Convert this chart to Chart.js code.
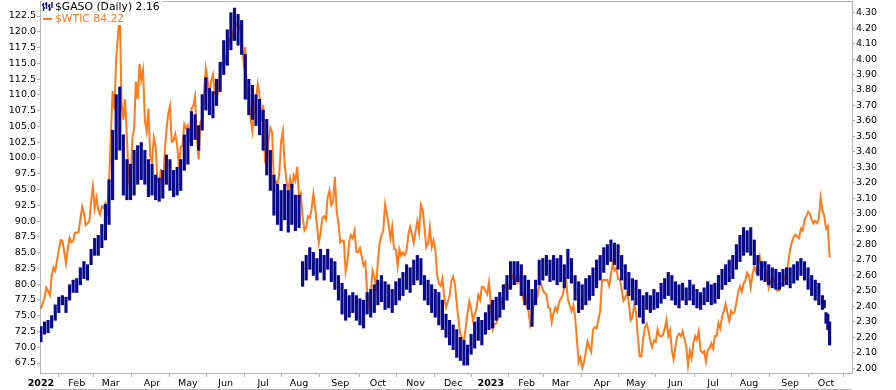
<!DOCTYPE html>
<html>
<head>
<meta charset="utf-8">
<script src="https://cdn.jsdelivr.net/npm/chart.js@4.4.1/dist/chart.umd.min.js"></script>
<style>
html,body{margin:0;padding:0;background:#fff;}
#wrap{position:relative;width:896px;height:390px;}
#legend{position:absolute;left:42px;top:1px;font:10.8px "DejaVu Sans",sans-serif;line-height:12px;background:#fff;padding-right:2px;}
#legend .sw{display:inline-block;width:9px;height:2px;background:#ff7b1c;vertical-align:middle;margin:0 3px 0 1px;}
</style>
</head>
<body>
<div id="wrap">
<canvas id="chart" width="896" height="390"></canvas>
<div id="legend">
  <div><svg width="11" height="9" style="vertical-align:-1px;margin-right:2px"><path d="M1.5 1v8M4.5 0v7M7.5 2v7M10 0v6M0 3h1.5M1.5 6h1.5M3 2h1.5M6 4h1.5M7.5 7h1.5" stroke="#0a0a8c" stroke-width="1.4" fill="none"/></svg><span>$GASO (Daily) 2.16</span></div>
  <div style="color:#ff7b1c"><span class="sw"></span>$WTIC 84.22</div>
</div>
</div>
<script>
// month ticks (trading-day index of first session in each month)
const monthStarts = [0,20,39,62,82,103,124,144,167,188,209,230,251,271,290,313,332,354,375,395,418,438];
const monthLabels = ["2022","Feb","Mar","Apr","May","Jun","Jul","Aug","Sep","Oct","Nov","Dec","2023","Feb","Mar","Apr","May","Jun","Jul","Aug","Sep","Oct"];

const wticTicks = [67.5,70,72.5,75,77.5,80,82.5,85,87.5,90,92.5,95,97.5,100,102.5,105,107.5,110,112.5,115,117.5,120,122.5];
const gasoTicks = [2.0,2.1,2.2,2.3,2.4,2.5,2.6,2.7,2.8,2.9,3.0,3.1,3.2,3.3,3.4,3.5,3.6,3.7,3.8,3.9,4.0,4.1,4.2,4.3];

// $WTIC daily close, Jan 3 2022 .. Oct 4 2023
const wticClose = [
  76.08,76.99,77.85,79.46,78.90,78.23,81.22,82.64,82.12,83.82,85.43,86.96,86.90,85.14,83.31,85.60,87.35,86.61,86.82,88.15,
  88.20,88.26,90.27,92.31,91.32,89.36,89.66,89.88,93.10,95.46,92.07,93.66,91.76,91.07,92.35,92.10,92.81,91.59,95.72,
  103.41,110.60,107.67,115.68,119.40,123.00,108.70,106.02,109.33,103.01,96.44,95.04,102.98,104.70,112.12,109.27,114.93,112.34,113.90,105.96,104.24,107.82,100.28,
  99.27,103.28,102.00,96.23,96.03,98.26,94.29,100.60,104.25,106.95,108.21,102.56,102.75,103.79,102.07,98.54,101.70,102.02,105.36,104.69,
  105.17,102.41,107.81,108.26,109.77,103.09,99.76,105.71,106.13,110.49,114.20,112.40,109.59,112.21,113.23,110.29,109.77,110.33,114.09,115.07,114.67,
  115.26,116.87,118.87,118.50,119.41,121.50,121.20,120.67,120.93,118.93,115.31,117.59,109.56,109.52,106.19,104.27,107.62,109.57,111.76,109.78,105.76,
  108.43,99.50,98.53,102.73,104.79,104.09,95.84,96.30,95.78,97.59,102.60,104.22,98.88,96.35,94.70,96.70,94.98,97.26,96.42,98.62,
  93.89,94.42,90.66,88.54,89.01,90.76,90.50,91.93,94.34,92.09,89.41,86.53,88.11,90.50,90.77,90.23,93.74,94.89,92.52,93.06,97.01,91.64,89.55,
  86.61,86.87,86.88,81.94,83.54,86.79,87.78,87.31,88.48,85.10,85.11,85.73,84.45,82.94,83.49,78.74,76.71,78.50,82.15,81.23,79.49,
  83.63,86.52,87.76,88.45,92.64,91.13,89.35,87.27,89.11,85.61,85.46,82.82,85.55,84.51,85.05,84.58,85.32,87.91,89.08,87.90,86.53,
  88.37,90.00,88.17,92.61,91.79,88.91,85.83,86.47,88.96,85.87,86.92,85.59,81.64,80.08,79.73,80.95,77.94,76.28,77.24,78.20,80.55,
  81.22,79.98,76.93,74.25,72.01,71.46,71.02,73.17,75.39,77.28,76.11,74.29,75.19,76.09,78.29,77.49,79.56,79.53,78.96,78.40,80.26,
  76.93,72.84,73.67,73.77,74.63,75.12,77.41,78.39,79.86,80.18,79.48,80.33,81.31,81.62,80.13,80.15,81.01,79.68,77.90,78.87,
  76.41,75.88,73.39,74.11,77.14,78.47,78.06,79.72,80.14,79.06,78.59,78.49,76.34,76.16,73.95,75.39,76.32,75.68,77.05,
  77.69,78.16,79.68,80.46,77.58,76.66,75.72,76.68,74.80,71.33,67.61,68.35,66.74,67.64,69.33,70.90,69.96,69.26,72.81,73.20,72.97,74.37,75.67,
  80.42,80.71,80.61,80.70,79.74,81.53,83.26,82.16,82.52,80.83,80.86,79.16,77.37,77.87,78.76,77.07,74.30,74.76,76.78,
  75.66,71.66,68.60,68.56,71.34,73.16,73.71,72.56,70.87,70.04,71.11,70.86,72.83,71.86,71.69,71.99,72.91,74.34,71.83,72.67,69.46,68.09,
  70.10,71.74,72.15,71.74,72.53,71.29,70.17,67.12,69.42,68.27,70.62,71.78,71.19,72.53,69.51,69.16,69.37,67.70,69.56,69.86,70.64,
  69.79,71.79,71.80,73.86,72.99,74.83,75.75,76.89,75.42,74.15,75.75,75.35,75.63,77.07,78.74,79.63,78.78,80.09,80.58,81.80,
  81.37,79.49,81.55,82.82,81.94,82.92,84.40,82.82,83.19,82.51,80.99,79.38,80.39,81.25,80.72,79.64,78.89,79.05,79.83,80.10,81.16,81.63,83.63,
  85.55,86.69,87.54,87.87,87.51,87.29,88.84,88.52,90.16,90.77,91.48,91.20,90.28,89.63,90.03,89.68,90.39,93.68,91.71,90.79,
  88.82,89.23,84.22
];

// $GASO bars: session index, low, high
const gasoIdx = [
  0,2,4,6,8,10,12,14,16,18,20,22,24,26,28,30,32,34,36,38,40,42,44,46,48,50,52,54,56,58,60,62,64,66,68,70,72,74,76,78,80,
  82,84,86,88,90,92,94,96,98,100,102,104,106,108,110,112,114,116,118,120,122,124,126,128,130,132,134,136,138,140,142,144,
  146,148,150,152,154,156,158,160,162,164,166,168,170,172,174,176,178,180,182,184,186,188,190,192,194,196,198,200,202,204,206,208,
  210,212,214,216,218,220,222,224,226,228,230,232,234,236,238,240,242,244,246,248,250,252,254,256,258,260,262,264,266,268,270,
  272,274,276,278,280,282,284,286,288,290,292,294,296,298,300,302,304,306,308,310,312,314,316,318,320,322,324,326,328,330,
  332,334,336,338,340,342,344,346,348,350,352,354,356,358,360,362,364,366,368,370,372,374,376,378,380,382,384,386,388,390,392,394,
  396,398,400,402,404,406,408,410,412,414,416,418,420,422,424,426,428,430,432,434,436,437,438,439,440
];
const gasoHigh = [
  2.27,2.30,2.31,2.34,2.41,2.46,2.47,2.46,2.54,2.57,2.58,2.65,2.69,2.67,2.77,2.84,2.86,2.93,3.06,3.22,3.54,3.77,3.82,3.51,3.35,3.32,3.41,3.44,3.46,3.41,3.35,3.32,3.25,3.23,3.28,3.38,3.35,3.28,3.30,3.35,3.51,
  3.55,3.66,3.64,3.57,3.77,3.88,3.81,3.79,3.87,3.98,4.12,4.19,4.30,4.33,4.29,4.25,4.03,3.87,3.83,3.77,3.74,3.67,3.61,3.41,3.25,3.19,3.15,3.19,3.15,3.19,3.12,3.12,
  2.69,2.73,2.78,2.75,2.71,2.77,2.73,2.77,2.71,2.69,2.60,2.55,2.51,2.47,2.49,2.47,2.45,2.44,2.49,2.51,2.54,2.57,2.60,2.56,2.54,2.51,2.56,2.58,2.62,2.67,2.65,2.70,
  2.73,2.71,2.60,2.57,2.54,2.51,2.49,2.44,2.35,2.31,2.28,2.25,2.20,2.18,2.15,2.22,2.30,2.33,2.31,2.36,2.41,2.44,2.46,2.49,2.54,2.60,2.69,2.69,2.69,2.67,2.60,
  2.57,2.51,2.57,2.70,2.71,2.73,2.70,2.73,2.71,2.73,2.67,2.77,2.71,2.60,2.56,2.54,2.58,2.60,2.65,2.70,2.73,2.78,2.80,2.83,2.81,2.80,2.73,2.67,2.62,2.58,
  2.57,2.51,2.47,2.49,2.47,2.51,2.49,2.55,2.58,2.62,2.60,2.56,2.54,2.55,2.52,2.57,2.54,2.51,2.49,2.52,2.56,2.54,2.55,2.60,2.64,2.67,2.70,2.73,2.80,2.86,2.91,2.89,
  2.91,2.83,2.73,2.69,2.69,2.67,2.65,2.64,2.62,2.64,2.65,2.65,2.67,2.69,2.71,2.69,2.65,2.60,2.57,2.55,2.47,2.44,2.36,2.35,2.30
];
const gasoLow = [
  2.17,2.22,2.23,2.26,2.31,2.36,2.41,2.36,2.44,2.49,2.49,2.54,2.58,2.57,2.67,2.73,2.73,2.78,2.83,2.93,3.09,3.35,3.41,3.12,3.09,3.09,3.12,3.19,3.22,3.19,3.11,3.12,3.09,3.08,3.10,3.19,3.15,3.11,3.12,3.15,3.28,
  3.32,3.44,3.48,3.41,3.54,3.67,3.64,3.62,3.70,3.79,3.90,3.96,4.06,4.12,4.09,4.03,3.74,3.64,3.61,3.57,3.51,3.41,3.25,3.15,2.99,2.93,2.89,2.96,2.88,2.93,2.89,2.91,
  2.53,2.57,2.64,2.60,2.57,2.62,2.57,2.64,2.56,2.51,2.44,2.35,2.31,2.33,2.36,2.31,2.28,2.26,2.35,2.33,2.36,2.41,2.43,2.38,2.39,2.36,2.41,2.44,2.47,2.51,2.49,2.54,
  2.57,2.54,2.44,2.41,2.36,2.33,2.28,2.25,2.20,2.15,2.12,2.07,2.05,2.02,2.02,2.09,2.13,2.18,2.15,2.22,2.25,2.26,2.31,2.33,2.38,2.44,2.51,2.54,2.56,2.47,2.41,
  2.38,2.27,2.41,2.54,2.57,2.60,2.56,2.57,2.54,2.56,2.52,2.58,2.55,2.44,2.36,2.38,2.41,2.44,2.47,2.52,2.57,2.62,2.67,2.69,2.67,2.64,2.57,2.51,2.47,2.44,
  2.41,2.33,2.29,2.38,2.36,2.38,2.39,2.42,2.45,2.47,2.44,2.41,2.39,2.44,2.41,2.44,2.41,2.39,2.38,2.41,2.43,2.41,2.42,2.45,2.51,2.54,2.56,2.58,2.64,2.69,2.73,2.75,
  2.73,2.67,2.60,2.57,2.56,2.54,2.52,2.51,2.51,2.53,2.54,2.52,2.55,2.57,2.60,2.57,2.51,2.47,2.44,2.41,2.38,2.39,2.29,2.25,2.15
];

const NAVY = "#0a0a8c";
const ORANGE = "#ff7b1c";
const AXIS = "#b4b4b4";
const FONT = "DejaVu Sans";

const gasoData = gasoIdx.map((x, i) => ({ x: x, y: [gasoLow[i], gasoHigh[i]] }));
const wticData = wticClose.map((v, i) => ({ x: i, y: v }));

const frame = {
  id: "frame",
  afterDraw(chart) {
    const { ctx, chartArea: a } = chart;
    ctx.save();
    ctx.strokeStyle = AXIS;
    ctx.lineWidth = 1;
    ctx.beginPath();
    ctx.moveTo(a.left, a.top + 0.5);
    ctx.lineTo(a.right, a.top + 0.5);
    ctx.moveTo(a.left, 389.5);
    ctx.lineTo(a.right, 389.5);
    ctx.stroke();
    ctx.restore();
  }
};

function noPad(s) {
  s.paddingTop = 0; s.paddingBottom = 0; s.paddingLeft = 0; s.paddingRight = 0;
}

new Chart(document.getElementById("chart"), {
  type: "bar",
  data: {
    datasets: [
      {
        type: "bar",
        label: "$GASO",
        data: gasoData,
        yAxisID: "y1",
        backgroundColor: NAVY,
        barThickness: 2.5,
        grouped: false,
        order: 1
      },
      {
        type: "line",
        label: "$WTIC",
        data: wticData,
        yAxisID: "y",
        borderColor: ORANGE,
        borderWidth: 2,
        pointRadius: 0,
        tension: 0,
        order: 2
      }
    ]
  },
  options: {
    responsive: false,
    animation: false,
    devicePixelRatio: 1,
    layout: { padding: { top: 1, left: 0, right: 0, bottom: 0 } },
    plugins: { legend: { display: false }, tooltip: { enabled: false } },
    scales: {
      x: {
        type: "linear",
        min: -0.5,
        max: 452.5,
        offset: false,
        afterBuildTicks: s => { s.ticks = monthStarts.map(v => ({ value: v })); },
        afterFit: s => { s.height = 17; noPad(s); },
        ticks: {
          autoSkip: false,
          maxRotation: 0,
          padding: 1,
          color: "#000",
          font: c => ({ family: FONT, size: 9.5, weight: (c.tick && /^20/.test(monthLabels[monthStarts.indexOf(c.tick.value)])) ? "bold" : "normal" }),
          callback: v => monthLabels[monthStarts.indexOf(v)]
        },
        grid: { drawOnChartArea: false, tickLength: 4, color: AXIS },
        border: { color: AXIS }
      },
      y: {
        position: "left",
        min: 65.92,
        max: 124.88,
        afterBuildTicks: s => { s.ticks = wticTicks.map(v => ({ value: v })); },
        afterFit: s => { s.width = 40; noPad(s); },
        ticks: { padding: 1, color: "#000", font: { family: FONT, size: 9.5 }, callback: v => v.toFixed(1) },
        grid: { drawOnChartArea: false, tickLength: 3, color: AXIS },
        border: { color: AXIS }
      },
      y1: {
        position: "right",
        min: 1.969,
        max: 4.376,
        afterBuildTicks: s => { s.ticks = gasoTicks.map(v => ({ value: v })); },
        afterFit: s => { s.width = 44; noPad(s); },
        ticks: { padding: 1, color: "#000", font: { family: FONT, size: 9.5 }, callback: v => v.toFixed(2) },
        grid: { drawOnChartArea: false, tickLength: 3, color: AXIS },
        border: { color: AXIS }
      }
    }
  },
  plugins: [frame]
});
</script>
</body>
</html>
